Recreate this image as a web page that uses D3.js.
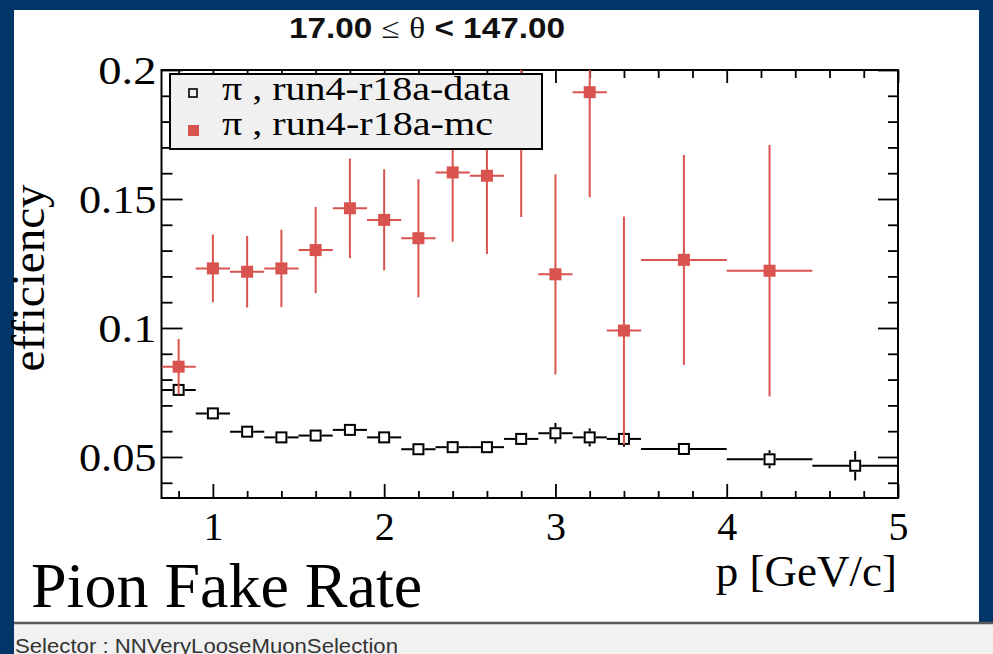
<!DOCTYPE html>
<html><head><meta charset="utf-8">
<script src="https://cdn.jsdelivr.net/npm/d3@7"></script>
<style>html,body{margin:0;padding:0;background:#fff;overflow:hidden}</style>
</head><body>
<svg id="c" width="993" height="654"></svg>
<script>
// ---------- data ----------
const binEdges = [0.7,0.9,1.1,1.3,1.5,1.7,1.9,2.1,2.3,2.5,2.7,2.9,3.1,3.3,3.5,4.0,4.5,5.0];
const pCenters = [0.8,1.0,1.2,1.4,1.6,1.8,2.0,2.2,2.4,2.6,2.8,3.0,3.2,3.4,3.75,4.25,4.75];
const dataEff  = [0.0760,0.0669,0.0598,0.0576,0.0583,0.0605,0.0576,0.0530,0.0538,0.0538,0.0570,0.0592,0.0576,0.0570,0.0531,0.0491,0.0466];
const dataErr  = [0.0020,0.0015,0.0015,0.0015,0.0015,0.0020,0.0020,0.0020,0.0020,0.0020,0.0020,0.0040,0.0035,0.0030,0.0020,0.0035,0.0057];
const mcEff    = [0.0850,0.1231,0.1218,0.1231,0.1302,0.1464,0.1419,0.1348,0.1603,0.1590,0.1820,0.1208,0.1914,0.0990,0.1264,0.1222,null];
const mcErr    = [0.0107,0.0131,0.0139,0.0150,0.0167,0.0193,0.0196,0.0229,0.0269,0.0303,0.0390,0.0388,0.0407,0.0442,0.0407,0.0487,null];
const xMajorTicks = [1,2,3,4,5];
const xTickLabels = ["1","2","3","4","5"];
const yMajorTicks = [0.05,0.1,0.15,0.2];
const yTickLabels = ["0.05","0.1","0.15","0.2"];
const seriesNames = ["\u03c0 , run4-r18a-data","\u03c0 , run4-r18a-mc"];
const titleParts = ["17.00 ","\u2264"," ","\u03b8"," < 147.00"];
const xTitle = "p [GeV/c]";
const yTitle = "efficiency";
const slideText = "Pion Fake Rate";
const footerText = "Selector : NNVeryLooseMuonSelection";

// ---------- layout ----------
const W = 993, H = 654;
const L = 161.5, R = 898, T = 70, B = 498;
const red = "#d9534f";
const blue = "#023669";
const serif = "'Liberation Serif','Times New Roman',serif";
const sans = "'Liberation Sans',Arial,sans-serif";

const svg = d3.select("#c");
svg.append("rect").attr("width",W).attr("height",H).attr("fill","#fff");

// frame of slide
svg.append("rect").attr("x",0).attr("y",0).attr("width",W).attr("height",10).attr("fill",blue);
svg.append("rect").attr("x",0).attr("y",0).attr("width",14).attr("height",H).attr("fill",blue);
svg.append("rect").attr("x",979).attr("y",0).attr("width",14).attr("height",622).attr("fill",blue);
svg.append("rect").attr("x",14).attr("y",622).attr("width",W-14).attr("height",H-622).attr("fill","#f1f1f1");
svg.append("line").attr("x1",14).attr("x2",W).attr("y1",623).attr("y2",623).attr("stroke","#5a5a5a").attr("stroke-width",2.5);
svg.append("text").attr("x",15).attr("y",653).attr("font-family",sans).attr("font-size",20)
  .attr("fill","#333").attr("textLength",383).attr("lengthAdjust","spacingAndGlyphs").text(footerText);

const x = d3.scaleLinear().domain([0.7,5.0]).range([L,R]);
const y = d3.scaleLinear().domain([0.0341,0.2]).range([B,T]);

// title
const tt = svg.append("text").attr("x",289).attr("y",38).attr("font-family",sans).attr("font-size",29)
  .attr("font-weight","bold").attr("fill","#111").attr("textLength",276).attr("lengthAdjust","spacingAndGlyphs");
titleParts.forEach((s,i)=>{
  const sp = tt.append("tspan").text(s);
  if (s==="\u2264"||s==="\u03b8") sp.attr("font-weight","normal").attr("font-family",serif);
});

// axes ticks
const xMinor = d3.range(0.8,5.0,0.2).map(v=>+v.toFixed(1)).filter(v=>Math.abs(v-Math.round(v))>1e-6);
const yMinor = d3.range(0.04,0.2,0.01).map(v=>+v.toFixed(2)).filter(v=>Math.abs(v*20-Math.round(v*20))>1e-6);

function styleAxis(g){ g.select(".domain").remove(); g.selectAll(".tick line").attr("stroke","#000").attr("stroke-width",1.8); }

const gB = svg.append("g").attr("transform",`translate(0,${B})`)
  .call(d3.axisBottom(x).tickValues(xMajorTicks).tickSize(-14).tickPadding(13.6).tickFormat((d,i)=>xTickLabels[i]));
styleAxis(gB);
gB.selectAll("text").attr("font-family",serif).attr("font-size",40).attr("fill","#000");
svg.append("g").attr("transform",`translate(0,${B})`)
  .call(d3.axisBottom(x).tickValues(xMinor).tickSize(-7).tickFormat("")).call(styleAxis);
svg.append("g").attr("transform",`translate(0,${T})`)
  .call(d3.axisTop(x).tickValues(xMajorTicks).tickSize(-13).tickFormat("")).call(styleAxis);
svg.append("g").attr("transform",`translate(0,${T})`)
  .call(d3.axisTop(x).tickValues(xMinor).tickSize(-8).tickFormat("")).call(styleAxis);

const gL = svg.append("g").attr("transform",`translate(${L},0)`)
  .call(d3.axisLeft(y).tickValues(yMajorTicks).tickSize(-21).tickPadding(5).tickFormat((d,i)=>yTickLabels[i]));
styleAxis(gL);
gL.selectAll("text").attr("font-family",serif).attr("font-size",41).attr("fill","#000").attr("dy","0.34em")
  .attr("textLength",function(d,i){return yTickLabels[i].length*19.4;}).attr("lengthAdjust","spacingAndGlyphs");
svg.append("g").attr("transform",`translate(${L},0)`)
  .call(d3.axisLeft(y).tickValues(yMinor).tickSize(-11).tickFormat("")).call(styleAxis);
svg.append("g").attr("transform",`translate(${R},0)`)
  .call(d3.axisRight(y).tickValues(yMajorTicks).tickSize(-20).tickFormat("")).call(styleAxis);
svg.append("g").attr("transform",`translate(${R},0)`)
  .call(d3.axisRight(y).tickValues(yMinor).tickSize(-10).tickFormat("")).call(styleAxis);

// frame
svg.append("rect").attr("x",L).attr("y",T).attr("width",R-L).attr("height",B-T)
  .attr("fill","none").attr("stroke","#000").attr("stroke-width",2);

// axis titles
svg.append("text").attr("x",897).attr("y",586).attr("text-anchor","end").attr("font-family",serif)
  .attr("font-size",45).attr("fill","#000").text(xTitle);
svg.append("text").attr("transform","translate(44,278) rotate(-90)").attr("text-anchor","middle")
  .attr("font-family",serif).attr("font-size",47).attr("fill","#000").text(yTitle);
svg.append("text").attr("x",31).attr("y",607).attr("font-family",serif).attr("font-size",64)
  .attr("fill","#000").text(slideText);

// data
svg.append("clipPath").attr("id","pc").append("rect").attr("x",L).attr("y",T).attr("width",R-L).attr("height",B-T);
const plot = svg.append("g").attr("clip-path","url(#pc)");

const h = 6;
const dataPts = pCenters.map((p,i)=>({p,lo:binEdges[i],hi:binEdges[i+1],v:dataEff[i],e:dataErr[i]}));
const segs = [];
dataPts.forEach(d=>{
  const cx=x(d.p), cy=y(d.v), xl=x(d.lo), xr=x(d.hi), yt=y(d.v+d.e), yb=y(d.v-d.e);
  if (xl<cx-h) segs.push([xl,cy,cx-h,cy]);
  if (xr>cx+h) segs.push([cx+h,cy,xr,cy]);
  if (yt<cy-h) segs.push([cx,yt,cx,cy-h]);
  if (yb>cy+h) segs.push([cx,cy+h,cx,yb]);
});
plot.selectAll(".dseg").data(segs).join("line").attr("class","dseg")
  .attr("x1",s=>s[0]).attr("y1",s=>s[1]).attr("x2",s=>s[2]).attr("y2",s=>s[3])
  .attr("stroke","#000").attr("stroke-width",2);
plot.selectAll(".dm").data(dataPts).join("rect").attr("class","dm")
  .attr("x",d=>x(d.p)-5).attr("y",d=>y(d.v)-5).attr("width",10).attr("height",10)
  .attr("fill","none").attr("stroke","#000").attr("stroke-width",2);

const mcPts = pCenters.map((p,i)=>({p,lo:binEdges[i],hi:binEdges[i+1],v:mcEff[i],e:mcErr[i]})).filter(d=>d.v!=null);
plot.selectAll(".mh").data(mcPts).join("line").attr("class","mh")
  .attr("x1",d=>x(d.lo)).attr("x2",d=>x(d.hi)).attr("y1",d=>y(d.v)).attr("y2",d=>y(d.v))
  .attr("stroke",red).attr("stroke-width",2);
plot.selectAll(".mv").data(mcPts).join("line").attr("class","mv")
  .attr("x1",d=>x(d.p)).attr("x2",d=>x(d.p)).attr("y1",d=>y(d.v+d.e)).attr("y2",d=>y(d.v-d.e))
  .attr("stroke",red).attr("stroke-width",2);
plot.selectAll(".mm").data(mcPts).join("rect").attr("class","mm")
  .attr("x",d=>x(d.p)-6).attr("y",d=>y(d.v)-6).attr("width",12).attr("height",12).attr("fill",red);

// legend
const lg = svg.append("g");
lg.append("rect").attr("x",170).attr("y",74).attr("width",372).attr("height",75)
  .attr("fill","#f0f0f0").attr("stroke","#000").attr("stroke-width",2);
lg.append("rect").attr("x",189).attr("y",89).attr("width",8).attr("height",8)
  .attr("fill","none").attr("stroke","#000").attr("stroke-width",1.6);
lg.append("rect").attr("x",188).attr("y",125).attr("width",11).attr("height",11).attr("fill",red);
lg.append("text").attr("x",222).attr("y",100).attr("font-family",serif).attr("font-size",33)
  .attr("fill","#000").attr("textLength",288).attr("lengthAdjust","spacingAndGlyphs").text(seriesNames[0]);
lg.append("text").attr("x",222).attr("y",135).attr("font-family",serif).attr("font-size",33)
  .attr("fill","#000").attr("textLength",271).attr("lengthAdjust","spacingAndGlyphs").text(seriesNames[1]);
</script>
</body></html>
